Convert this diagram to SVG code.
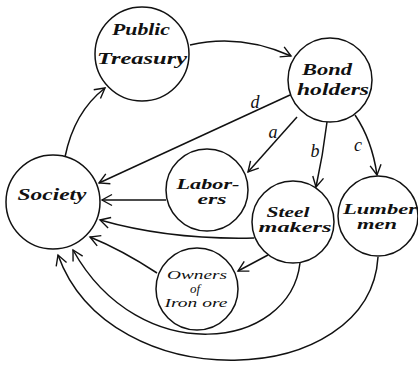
<svg xmlns="http://www.w3.org/2000/svg" width="418" height="365" viewBox="0 0 418 365">
<style>
.n{fill:#fff;stroke:#111;stroke-width:1.5}
.t{font-family:"Liberation Serif","DejaVu Serif",serif;font-weight:bold;font-style:italic;font-size:17px;fill:#111;text-anchor:middle}
.s{font-size:14px}
.o{font-family:"Liberation Serif","DejaVu Serif",serif;font-style:italic;font-size:13px;fill:#111;text-anchor:middle}
.l{font-family:"Liberation Serif","DejaVu Serif",serif;font-style:italic;font-size:18px;fill:#111;text-anchor:middle}
.e{fill:none;stroke:#111;stroke-width:1.5;marker-end:url(#a)}
</style>
<defs>
<marker id="a" viewBox="-12 -7 14 14" refX="0" refY="0" markerWidth="14" markerHeight="14" markerUnits="userSpaceOnUse" orient="auto">
<path d="M-10,-5.5 L0,0 L-10,5.5" fill="none" stroke="#111" stroke-width="1.4"/>
</marker>
</defs>
<g id="connectors">
<path class="e" d="M65,157 Q74,112 105,88"/>
<path class="e" d="M190,45 Q240,33 291,56"/>
<path class="e" d="M290,95 L99,183"/>
<path class="e" d="M297,117 L248,172"/>
<path class="e" d="M327,122 Q323,155 316,187"/>
<path class="e" d="M355,115 Q372,140 377,175"/>
<path class="e" d="M166,200 L102,200"/>
<path class="e" d="M254,238 Q170,240 100,220"/>
<path class="e" d="M268,255 L238,271"/>
<path class="e" d="M157,273 Q122,250 90,237"/>
<path class="e" d="M300,263 C290,350 140,370 73,250"/>
<path class="e" d="M378,257 C370,390 110,400 58,255"/>
<text class="l" x="255" y="108">d</text>
<text class="l" x="273" y="138">a</text>
<text class="l" x="315" y="157">b</text>
<text class="l" x="358" y="151">c</text>
</g>
<g id="public-treasury">
<circle class="n" cx="142" cy="54" r="47"/>
<text class="t" x="141" y="35" textLength="58" lengthAdjust="spacingAndGlyphs">Public</text>
<text class="t" x="142" y="64" textLength="90" lengthAdjust="spacingAndGlyphs">Treasury</text>
</g>
<g id="bond-holders">
<circle class="n" cx="330" cy="80" r="42"/>
<text class="t" x="327" y="75" textLength="50" lengthAdjust="spacingAndGlyphs">Bond</text>
<text class="t" x="333" y="95" textLength="72" lengthAdjust="spacingAndGlyphs">holders</text>
</g>
<g id="society">
<circle class="n" cx="53" cy="202" r="47"/>
<text class="t" x="52" y="200" textLength="69" lengthAdjust="spacingAndGlyphs">Society</text>
</g>
<g id="laborers">
<circle class="n" cx="207" cy="190" r="41"/>
<text class="t s" x="208" y="189" textLength="63" lengthAdjust="spacingAndGlyphs">Labor-</text>
<text class="t s" x="212" y="204" textLength="29" lengthAdjust="spacingAndGlyphs">ers</text>
</g>
<g id="steel-makers">
<circle class="n" cx="293" cy="222" r="41"/>
<text class="t s" x="288" y="217" textLength="43" lengthAdjust="spacingAndGlyphs">Steel</text>
<text class="t s" x="295" y="232" textLength="73" lengthAdjust="spacingAndGlyphs">makers</text>
</g>
<g id="lumbermen">
<circle class="n" cx="378" cy="216" r="40"/>
<text class="t s" x="380" y="214" textLength="74" lengthAdjust="spacingAndGlyphs">Lumber</text>
<text class="t s" x="377" y="229" textLength="40" lengthAdjust="spacingAndGlyphs">men</text>
</g>
<g id="owners-of-iron-ore">
<circle class="n" cx="197" cy="289" r="41"/>
<text class="o" x="197" y="279" textLength="60" lengthAdjust="spacingAndGlyphs">Owners</text>
<text class="o" x="195" y="293">of</text>
<text class="o" x="196" y="307" textLength="63" lengthAdjust="spacingAndGlyphs">Iron ore</text>
</g>
</svg>
